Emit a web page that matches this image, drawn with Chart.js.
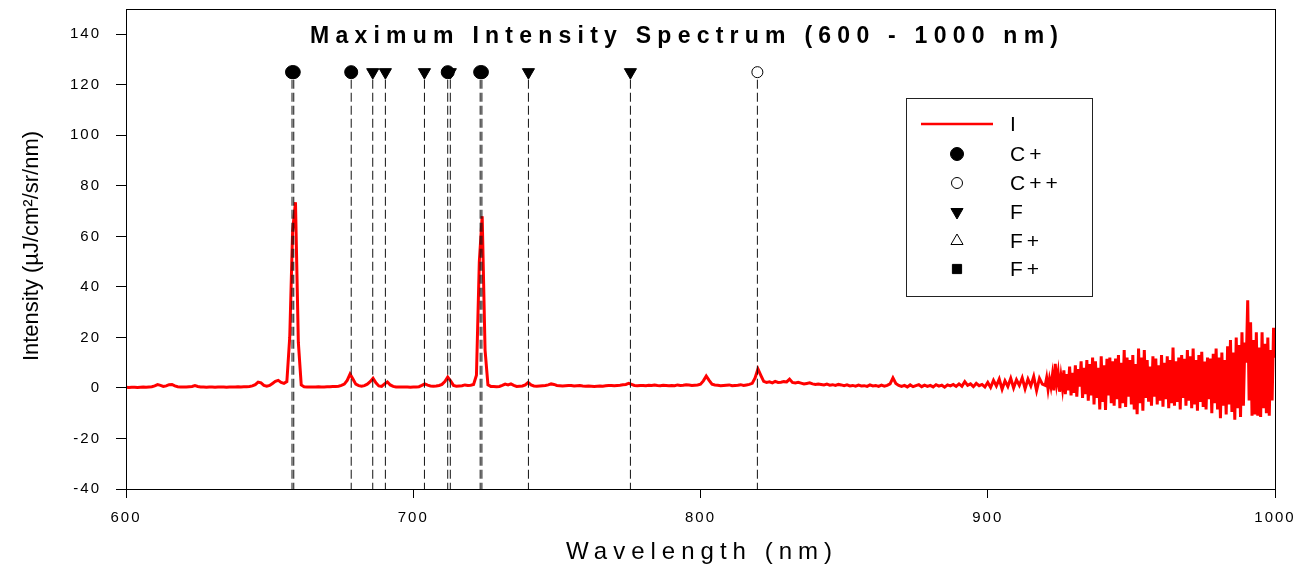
<!DOCTYPE html>
<html>
<head>
<meta charset="utf-8">
<script src="https://cdn.jsdelivr.net/npm/chart.js"></script>
<style>
  body { margin: 0; background: #fff; }
  #wrap { width: 1307px; height: 572px; }
</style>
</head>
<body>
<div id="wrap"><canvas id="myChart" width="1307" height="572"></canvas></div>
<script>
// intensity, 600-919 nm every 1 nm
const intensityA = [
  0.3, 0.2, 0.3, 0.3, 0.2, 0.3, 0.4, 0.3, 0.4, 0.5,
  0.8, 1.3, 1.0, 0.6, 0.8, 1.3, 1.4, 0.8, 0.5, 0.4,
  0.4, 0.4, 0.5, 0.6, 0.9, 0.6, 0.4, 0.4, 0.3, 0.4,
  0.4, 0.3, 0.4, 0.4, 0.4, 0.3, 0.4, 0.4, 0.4, 0.5,
  0.4, 0.5, 0.5, 0.6, 0.8, 1.3, 2.3, 2.0, 1.0, 0.7,
  1.0, 1.8, 2.6, 3.0, 2.2, 1.8, 2.5, 20, 62, 73.5,
  18, 1.2, 0.5, 0.4, 0.4, 0.4, 0.4, 0.5, 0.4, 0.4,
  0.5, 0.5, 0.6, 0.6, 0.7, 1.0, 1.5, 3.0, 5.5, 3.5,
  1.5, 0.9, 0.7, 0.9, 1.5, 2.5, 3.8, 2.0, 0.8, 0.6,
  1.6, 2.4, 1.2, 0.6, 0.4, 0.4, 0.4, 0.4, 0.4, 0.3,
  0.4, 0.4, 0.5, 1.0, 1.6, 1.1, 0.8, 0.7, 0.8, 1.0,
  1.4, 2.5, 4.3, 2.8, 1.0, 0.7, 0.8, 0.9, 1.2, 1.0,
  1.1, 1.4, 5, 50, 68, 15, 1.2, 0.6, 0.6, 0.5,
  0.6, 1.0, 1.5, 1.2, 1.6, 1.0, 0.6, 0.7, 0.8, 1.2,
  2.2, 1.2, 0.8, 0.7, 0.8, 0.9, 1.0, 1.2, 1.6, 1.4,
  1.0, 0.9, 0.8, 0.9, 1.0, 1.0, 0.8, 0.9, 1.0, 0.8,
  0.7, 0.8, 0.7, 0.6, 0.7, 0.8, 0.7, 0.9, 1.0, 1.0,
  0.9, 1.0, 1.1, 1.3, 1.4, 1.8, 1.4, 1.0, 0.9, 1.0,
  1.0, 0.9, 1.1, 1.0, 1.2, 1.0, 0.9, 1.1, 1.0, 0.9,
  1.0, 0.9, 1.2, 1.0, 1.1, 1.3, 1.2, 1.0, 1.1, 1.2,
  1.5, 2.8, 4.7, 3.0, 1.5, 1.2, 1.1, 0.9, 1.0, 1.1,
  1.2, 0.9, 1.0, 1.1, 1.3, 1.0, 1.2, 1.4, 1.8, 4.0,
  7.5, 5.0, 2.6, 2.2, 2.4, 2.0, 2.6, 2.2, 2.3, 2.5,
  2.4, 3.5, 2.2, 2.0, 2.2, 1.9, 1.6, 1.8, 2.0, 1.6,
  1.4, 1.6, 1.4, 1.2, 1.5, 1.1, 1.3, 1.0, 1.4, 1.2,
  0.9, 1.2, 0.8, 1.0, 0.7, 1.1, 0.8, 0.9, 0.6, 1.2,
  0.8, 1.0, 0.6, 1.1, 0.7, 1.0, 1.6, 4.0, 1.8, 1.0,
  0.6, 1.0, 0.4, 1.2, 0.5, 0.9, 1.3, 0.5, 1.1, 0.6,
  1.0, 0.4, 1.3, 0.7, 1.1, 0.3, 1.2, 0.8, 1.4, 0.6,
  1.6, 0.7, 2.5, 1.0, 1.6, 0.5, 1.8, 0.9, 1.4, 0.4,
  2.2, 0.2, 3.0, 0.8, 3.5, -0.5, 2.8, 0.6, 3.8, 0.0,
  3.2, 1.0, 4.0, -0.3, 3.5, 0.8, 4.5, -1.0, 3.8, 1.5
];

// noisy tail, 920-1000 nm every 0.5 nm
const intensityB = [
  1.0, 4.0, -0.5, 3.5, 0.5, 5.0, -1.0, 9.5, 2.0, 6.0,
  -1.5, 4.5, 0.0, 7.0, -2.5, 5.5, -1.0, 8.5, -3.0, 6.0,
  -2.0, 9.0, -3.5, 7.5, 0.5, 10.5, -4.0, 8.0, -2.5, 11.0,
  -5.0, 9.5, -3.0, 12.0, -6.5, 10.5, -4.0, 8.0, -8.5, 12.5,
  -5.5, 9.0, -8.7, 11.5, -3.0, 12.0, -6.0, 10.5, -7.0, 11.6,
  -4.5, 13.0, -8.0, 10.0, -6.0, 15.0, -7.5, 12.0, -3.5, 11.0,
  -6.5, 13.0, -8.5, 9.5, -10.4, 15.6, -6.0, 12.0, -9.0, 15.0,
  -4.0, 11.0, -5.4, 8.5, -7.0, 12.5, -3.5, 11.6, -6.5, 9.0,
  -5.0, 13.0, -7.4, 10.0, -4.5, 12.5, -8.0, 11.0, -6.0, 16.0,
  -7.0, 10.5, -5.5, 12.0, -8.5, 13.0, -4.0, 11.5, -7.0, 15.0,
  -5.0, 12.5, -8.0, 15.6, -6.5, 11.0, -9.0, 13.0, -5.5, 14.3,
  -7.5, 10.5, -8.5, 12.0, -4.5, 11.6, -10.0, 13.5, -6.0, 15.6,
  -8.5, 12.0, -12.0, 14.0, -7.0, 11.0, -10.5, 16.5, -6.5, 19.0,
  -9.5, 14.0, -12.6, 20.0, -8.0, 17.0, -11.5, 22.0, -7.0, 18.0,
  10.0, 34.7, -5.0, 26.0, -11.0, 19.0, -10.5, 22.0, -11.0, 16.0,
  -11.5, 22.0, -8.0, 17.5, -10.0, 20.0, -11.0, 15.0, -5.0, 23.8,
  12.0
];

// line identifications (nm)
const cPlusLines = [657.8, 658.4, 678.4, 712.0, 723.3, 723.9];
const cPlusPlusLines = [819.8];
const fLines = [685.9, 690.3, 703.9, 712.9, 740.1, 775.6];

const markerLevel = 125;
const dropTop = 122;
const dropBottom = -40;

const xTicks = [600, 700, 800, 900, 1000];
const yTicks = [-40, -20, 0, 20, 40, 60, 80, 100, 120, 140];

const spectrum = [];
intensityA.forEach((v, i) => spectrum.push({ x: 600 + i, y: v }));
intensityB.forEach((v, i) => spectrum.push({ x: 920 + i * 0.5, y: v }));

const dropLines = [];
[...cPlusLines, ...fLines, ...cPlusPlusLines].forEach((w) => {
  dropLines.push({ x: w, y: dropTop }, { x: w, y: dropBottom }, { x: w, y: null });
});

const marks = (list) => list.map((w) => ({ x: w, y: markerLevel }));

const FONT = "'Liberation Sans', Arial, sans-serif";

// draws text with letter spacing stretched to a given width
function spacedText(ctx, text, x, y, width) {
  ctx.letterSpacing = "0px";
  const w0 = ctx.measureText(text).width;
  const ls = Math.max(0, (width - w0) / (text.length - 1));
  ctx.letterSpacing = ls + "px";
  ctx.fillText(text, x + ls / 2, y);
  ctx.letterSpacing = "0px";
}

const decor = {
  id: "decor",
  beforeDraw(chart) {
    chart.ctx.letterSpacing = "2px";
  },
  beforeDatasetsDraw(chart) {
    chart.ctx.letterSpacing = "0px";
  },
  afterDraw(chart) {
    const ctx = chart.ctx;
    const a = chart.chartArea;
    ctx.save();
    ctx.letterSpacing = "0px";

    // frame
    ctx.strokeStyle = "#000";
    ctx.lineWidth = 1;
    ctx.strokeRect(a.left + 0.5, a.top + 0.5, a.right - a.left, a.bottom - a.top);

    // title
    ctx.fillStyle = "#000";
    ctx.textAlign = "center";
    ctx.textBaseline = "alphabetic";
    ctx.font = "bold 23px " + FONT;
    spacedText(ctx, "Maximum Intensity Spectrum (600 - 1000 nm)", 684, 43, 748);

    // x title
    ctx.font = "24px " + FONT;
    ctx.textBaseline = "middle";
    spacedText(ctx, "Wavelength (nm)", 699, 552, 266);

    // y title
    ctx.save();
    ctx.translate(32, 246);
    ctx.rotate(-Math.PI / 2);
    ctx.font = "22px " + FONT;
    ctx.fillText("Intensity (\u00b5J/cm\u00b2/sr/nm)", 0, 0);
    ctx.restore();

    // legend
    const lx = 906, ly = 98;
    ctx.strokeStyle = "#222";
    ctx.strokeRect(lx + 0.5, ly + 0.5, 186, 198);
    const rows = [124, 154, 183, 212, 241, 269];
    ctx.strokeStyle = "#ff0000";
    ctx.lineWidth = 2.5;
    ctx.beginPath();
    ctx.moveTo(921, rows[0]);
    ctx.lineTo(993, rows[0]);
    ctx.stroke();

    const syms = [
      null,
      { pointStyle: "circle", radius: 6.5, rotation: 0, fill: "#000" },
      { pointStyle: "circle", radius: 5.5, rotation: 0, fill: "#fff" },
      { pointStyle: "triangle", radius: 7, rotation: 180, fill: "#000" },
      { pointStyle: "triangle", radius: 7, rotation: 0, fill: "#fff" },
      { pointStyle: "rect", radius: 6.5, rotation: 0, fill: "#000" },
    ];
    const names = ["I", "C+", "C++", "F", "F+", "F+"];
    ctx.lineWidth = 1;
    ctx.strokeStyle = "#000";
    syms.forEach((s, i) => {
      if (s) {
        ctx.fillStyle = s.fill;
        Chart.helpers.drawPoint(ctx, { pointStyle: s.pointStyle, radius: s.radius, rotation: s.rotation, borderWidth: 1 }, 957, rows[i]);
      }
      ctx.fillStyle = "#000";
      ctx.font = "21px " + FONT;
      ctx.textAlign = "left";
      ctx.letterSpacing = "4px";
      ctx.fillText(names[i], 1010, rows[i] + 1);
      ctx.letterSpacing = "0px";
    });
    ctx.restore();
  },
};

new Chart("myChart", {
  type: "line",
  data: {
    datasets: [
      {
        label: "C+",
        data: marks(cPlusLines),
        showLine: false,
        pointStyle: "circle",
        pointRadius: 6.5,
        pointBackgroundColor: "#000",
        pointBorderColor: "#000",
        pointBorderWidth: 1,
      },
      {
        label: "F",
        data: marks(fLines),
        showLine: false,
        pointStyle: "triangle",
        pointRotation: 180,
        pointRadius: 7,
        pointBackgroundColor: "#000",
        pointBorderColor: "#000",
        pointBorderWidth: 1,
      },
      {
        label: "C++",
        data: marks(cPlusPlusLines),
        showLine: false,
        pointStyle: "circle",
        pointRadius: 5.5,
        pointBackgroundColor: "#fff",
        pointBorderColor: "#000",
        pointBorderWidth: 1,
      },
      {
        label: "lines",
        data: dropLines,
        borderColor: "#111",
        borderWidth: 1,
        borderDash: [9, 4],
        pointRadius: 0,
        spanGaps: false,
      },
      {
        label: "I",
        data: spectrum,
        borderColor: "#ff0000",
        borderWidth: 3,
        pointRadius: 0,
        tension: 0,
      },
    ],
  },
  options: {
    responsive: false,
    animation: false,
    events: [],
    layout: { padding: { top: 9, right: 32, left: 0, bottom: 0 } },
    plugins: { legend: { display: false }, title: { display: false }, tooltip: { enabled: false } },
    scales: {
      x: {
        type: "linear",
        min: 600,
        max: 1000,
        afterBuildTicks: (s) => { s.ticks = xTicks.map((v) => ({ value: v })); },
        afterFit: (s) => { s.height = 83; s.paddingLeft = 0; s.paddingRight = 0; },
        border: { color: "#000", width: 1 },
        grid: { drawOnChartArea: false, tickLength: 9, color: "#000" },
        ticks: { color: "#000", font: { family: FONT, size: 15 }, padding: 11, maxRotation: 0, callback: (v) => String(v) },
      },
      y: {
        min: -40,
        max: 150,
        afterBuildTicks: (s) => { s.ticks = yTicks.map((v) => ({ value: v })); },
        afterFit: (s) => { s.width = 126; s.paddingTop = 0; s.paddingBottom = 0; },
        border: { color: "#000", width: 1 },
        grid: { drawOnChartArea: false, tickLength: 10, color: "#000" },
        ticks: { color: "#000", font: { family: FONT, size: 15 }, padding: 15 },
      },
    },
  },
  plugins: [decor],
});
</script>
</body>
</html>
